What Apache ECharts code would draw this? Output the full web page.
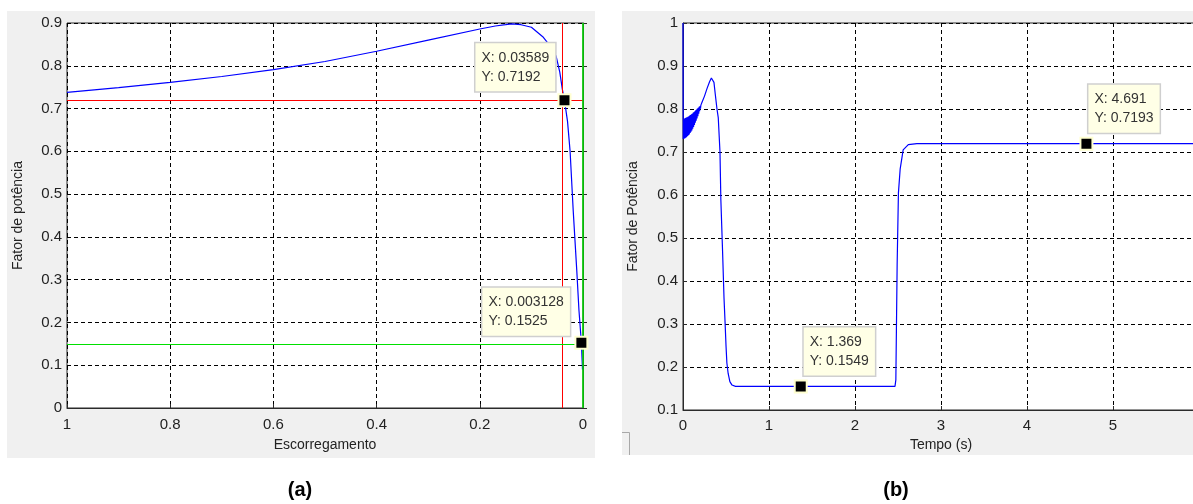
<!DOCTYPE html>
<html>
<head>
<meta charset="utf-8">
<title>Fator de potência</title>
<script src="https://cdn.jsdelivr.net/npm/echarts@6/dist/echarts.min.js"></script>
<style>
  html, body { margin: 0; padding: 0; background: #ffffff; }
  #chart { width: 1193px; height: 504px; }
</style>
</head>
<body>
<div id="chart"></div>
<script>
// (a) power factor versus slip
const slipValues = [1, 0.9, 0.8, 0.7, 0.6, 0.5, 0.4, 0.3, 0.2, 0.17, 0.15, 0.138, 0.12, 0.1, 0.089, 0.078, 0.068, 0.06, 0.052, 0.045, 0.04, 0.03589, 0.03, 0.025, 0.019, 0.012, 0.0078, 0.003128, 0.002, 0.001];
const slipPF     = [0.738, 0.749, 0.761, 0.775, 0.791, 0.810, 0.834, 0.860, 0.886, 0.893, 0.896, 0.898, 0.896, 0.890, 0.879, 0.868, 0.853, 0.841, 0.822, 0.785, 0.745, 0.7192, 0.67, 0.60, 0.462, 0.32, 0.228, 0.1525, 0.12, 0.09];

// (b) power factor versus time
const timeValues = [0, 0.003, 0.008, 0.013, 0.018, 0.023, 0.028, 0.033, 0.038, 0.043, 0.048, 0.053, 0.058, 0.063, 0.068, 0.073, 0.078, 0.083, 0.088, 0.093, 0.098, 0.103, 0.108, 0.113, 0.118, 0.123, 0.128, 0.133, 0.138, 0.143, 0.148, 0.153, 0.158, 0.163, 0.168, 0.173, 0.178, 0.183, 0.188, 0.193, 0.198, 0.203, 0.208,
  0.22, 0.25, 0.28, 0.31, 0.33, 0.345, 0.36, 0.375, 0.395, 0.41, 0.43, 0.44, 0.46, 0.477, 0.49, 0.5, 0.51, 0.525, 0.545, 0.57, 0.61, 1.369, 2.465, 2.475, 2.49, 2.505, 2.525, 2.56, 2.62, 2.72, 4.691, 6];
const timePF = [1.0, 0.730, 0.775, 0.731, 0.778, 0.732, 0.779, 0.733, 0.780, 0.735, 0.781, 0.737, 0.782, 0.739, 0.783, 0.741, 0.785, 0.744, 0.786, 0.747, 0.788, 0.750, 0.789, 0.754, 0.791, 0.758, 0.793, 0.763, 0.795, 0.768, 0.797, 0.773, 0.799, 0.778, 0.801, 0.783, 0.803, 0.789, 0.805, 0.795, 0.807, 0.801, 0.809,
  0.815, 0.830, 0.848, 0.864, 0.872, 0.873, 0.862, 0.835, 0.800, 0.780, 0.700, 0.590, 0.470, 0.360, 0.300, 0.250, 0.210, 0.185, 0.166, 0.158, 0.155, 0.1549, 0.155, 0.170, 0.437, 0.605, 0.660, 0.705, 0.717, 0.7193, 0.7193, 0.7193];

// data cursors: [x, y]
const slipTips = [[0.03589, 0.7192], [0.003128, 0.1525]];
const timeTips = [[1.369, 0.1549], [4.691, 0.7193]];

// tick settings
const slipTicks = { min: 0, max: 1, interval: 0.2 };
const slipPFTicks = { min: 0, max: 0.9, interval: 0.1 };
const timeTicks = { min: 0, max: 6, interval: 1 };
const timePFTicks = { min: 0.1, max: 1, interval: 0.1 };

const FONT = 'Liberation Sans, Arial, sans-serif';
const AXIS_COLOR = '#2b2b2b';

function pairs(xs, ys) { return xs.map((x, i) => [x, ys[i]]); }

function axisCommon(labelMargin) {
  return {
    axisLine: { show: true, lineStyle: { color: AXIS_COLOR, width: 1 } },
    axisTick: { show: true, inside: true, length: 4, lineStyle: { color: AXIS_COLOR } },
    axisLabel: { color: '#222', fontSize: 15, fontFamily: FONT, margin: labelMargin },
    splitLine: { show: true, lineStyle: { color: '#000', type: [4, 3], width: 1 } },
    nameTextStyle: { color: '#222', fontSize: 14, fontFamily: FONT }
  };
}

const tipLabel = {
  show: true,
  color: '#333',
  fontSize: 14,
  fontFamily: FONT,
  lineHeight: 19,
  backgroundColor: '#ffffe6',
  borderColor: '#cfcfcf',
  borderWidth: 1.5,
  padding: [5, 6, 5, 6],
  formatter: p => 'X: ' + p.value[0] + '\nY: ' + p.value[1]
};

function tipSeries(xi, yi, pt, offset) {
  return {
    type: 'scatter',
    xAxisIndex: xi, yAxisIndex: yi,
    data: [pt],
    symbol: 'rect',
    symbolSize: 12,
    z: 10,
    itemStyle: { color: '#000', borderColor: '#ffffd0', borderWidth: 2, opacity: 1 },
    label: Object.assign({}, tipLabel, { position: offset }),
    emphasis: { disabled: true },
    silent: true
  };
}

const chart = echarts.init(document.getElementById('chart'), null, { renderer: 'canvas' });

chart.setOption({
  animation: false,
  backgroundColor: '#ffffff',
  graphic: [
    { type: 'rect', z: -10, shape: { x: 7, y: 11, width: 588, height: 447 }, style: { fill: '#f0f0f0' } },
    { type: 'rect', z: -10, shape: { x: 622, y: 11, width: 571, height: 444 }, style: { fill: '#f0f0f0' } },
    { type: 'polyline', z: -5, shape: { points: [[622, 432.5], [629.5, 432.5], [629.5, 455]] }, style: { stroke: '#a8a8a8', lineWidth: 1, fill: null } },
    { type: 'text', x: 300, y: 490, style: { text: '(a)', font: 'bold 20px ' + FONT, fill: '#000', align: 'center', verticalAlign: 'middle' } },
    { type: 'text', x: 896, y: 490, style: { text: '(b)', font: 'bold 20px ' + FONT, fill: '#000', align: 'center', verticalAlign: 'middle' } }
  ],
  grid: [
    { left: 67, top: 23, width: 516, height: 385, show: true, backgroundColor: '#fff', borderColor: AXIS_COLOR, borderWidth: 1, outerBoundsMode: 'none' },
    { left: 683, top: 23, width: 516, height: 387, show: true, backgroundColor: '#fff', borderColor: AXIS_COLOR, borderWidth: 1, outerBoundsMode: 'none' }
  ],
  xAxis: [
    Object.assign(axisCommon(9), {
      gridIndex: 0, type: 'value', inverse: true,
      min: slipTicks.min, max: slipTicks.max, interval: slipTicks.interval,
      name: 'Escorregamento', nameLocation: 'middle', nameGap: 30
    }),
    Object.assign(axisCommon(8), {
      gridIndex: 1, type: 'value',
      min: timeTicks.min, max: timeTicks.max, interval: timeTicks.interval,
      name: 'Tempo (s)', nameLocation: 'middle', nameGap: 27
    })
  ],
  yAxis: [
    Object.assign(axisCommon(5), {
      gridIndex: 0, type: 'value',
      min: slipPFTicks.min, max: slipPFTicks.max, interval: slipPFTicks.interval,
      name: 'Fator de potência', nameLocation: 'middle', nameGap: 42
    }),
    Object.assign(axisCommon(5), {
      gridIndex: 1, type: 'value',
      min: timePFTicks.min, max: timePFTicks.max, interval: timePFTicks.interval,
      name: 'Fator de Potência', nameLocation: 'middle', nameGap: 43
    })
  ],
  series: [
    {
      type: 'line', xAxisIndex: 0, yAxisIndex: 0,
      data: pairs(slipValues, slipPF),
      showSymbol: false, smooth: false,
      lineStyle: { color: '#0000ff', width: 1.2 },
      z: 3,
      markLine: {
        silent: true, symbol: 'none', label: { show: false },
        animation: false,
        data: [
          { xAxis: slipTips[0][0], lineStyle: { color: '#ff0000', width: 1, type: 'solid' } },
          { yAxis: slipTips[0][1], lineStyle: { color: '#ff0000', width: 1, type: 'solid' } },
          { xAxis: slipTips[1][0], lineStyle: { color: '#00e000', width: 1.5, type: 'solid' } },
          { yAxis: slipTips[1][1], lineStyle: { color: '#00e000', width: 1, type: 'solid' } }
        ]
      }
    },
    {
      type: 'line', xAxisIndex: 1, yAxisIndex: 1,
      data: pairs(timeValues, timePF),
      showSymbol: false, smooth: false,
      lineStyle: { color: '#0000ff', width: 1.2 },
      z: 3
    },
    tipSeries(0, 0, slipTips[0], [-82, -50]),
    tipSeries(0, 0, slipTips[1], [-92, -48]),
    tipSeries(1, 1, timeTips[0], [10, -52]),
    tipSeries(1, 1, timeTips[1], [9, -52])
  ]
});
</script>
</body>
</html>
